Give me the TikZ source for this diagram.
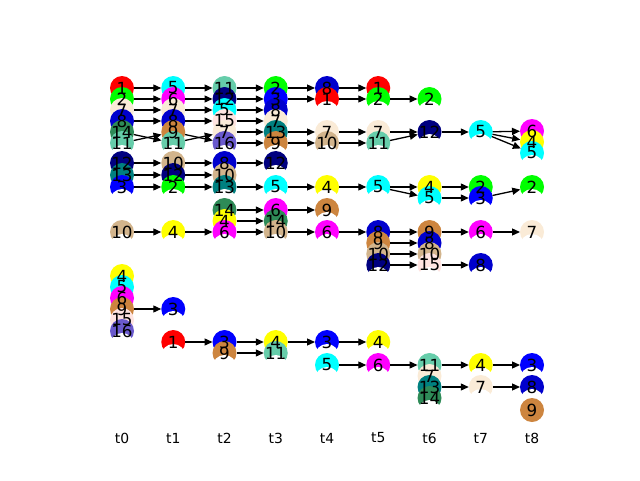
\documentclass[tikz,border=0pt]{standalone}
\usepackage{fontspec}
\setmainfont{DejaVu Sans}
\usepackage{tikz}
\usetikzlibrary{arrows.meta}

\definecolor{col1}{HTML}{FF0000}
\definecolor{col2}{HTML}{00FF00}
\definecolor{col3}{HTML}{0000FF}
\definecolor{col4}{HTML}{FFFF00}
\definecolor{col5}{HTML}{00FFFF}
\definecolor{col6}{HTML}{FF00FF}
\definecolor{col7}{HTML}{FAEBD7}
\definecolor{col8}{HTML}{0000CD}
\definecolor{col9}{HTML}{CD853F}
\definecolor{col10}{HTML}{D2B48C}
\definecolor{col11}{HTML}{66CDAA}
\definecolor{col12}{HTML}{000080}
\definecolor{col13}{HTML}{008080}
\definecolor{col14}{HTML}{2E8B57}
\definecolor{col15}{HTML}{FFE4E1}
\definecolor{col16}{HTML}{6A5ACD}

% column / y / track id
\def\tracknodes{0/88/1, 0/99/2, 0/110/7, 0/121/8, 0/132/14, 0/143/11, 0/163/12, 0/175/13, 0/187/3, 0/232/10,
  0/276/4, 0/287/5, 0/298/6, 0/309/9, 0/320/15, 0/331/16,
  1/88/5, 1/99/6, 1/110/7, 1/121/8, 1/132/9, 1/143/11, 1/163/10, 1/175/12, 1/187/2, 1/232/4, 1/309/3, 1/342/1,
  2/88/11, 2/99/12, 2/110/5, 2/121/15, 2/132/7, 2/143/16, 2/163/8, 2/175/10, 2/187/13, 2/210/14, 2/221/4, 2/232/6,
  2/342/3, 2/353/9,
  3/88/2, 3/99/3, 3/110/8, 3/121/7, 3/132/13, 3/143/9, 3/163/12, 3/187/5, 3/210/6, 3/221/14, 3/232/10, 3/342/4, 3/353/11,
  4/88/8, 4/99/1, 4/132/7, 4/143/10, 4/187/4, 4/210/9, 4/232/6, 4/342/3, 4/365/5,
  5/88/1, 5/99/2, 5/132/7, 5/143/11, 5/187/5, 5/232/8, 5/243/9, 5/254/10, 5/265/12, 5/342/4, 5/365/6,
  6/99/2, 6/132/12, 6/187/4, 6/198/5, 6/232/9, 6/243/8, 6/254/10, 6/265/15, 6/365/11, 6/376/7, 6/387/13, 6/398/14,
  7/132/5, 7/187/2, 7/198/3, 7/232/6, 7/265/8, 7/365/4, 7/387/7,
  8/131/6, 8/142/4, 8/153/5, 8/187/2, 8/232/7, 8/365/3, 8/387/8}

\begin{document}
\begin{tikzpicture}[
        x=1pt, y=-1pt,
        dot/.style={circle, inner sep=0pt, outer sep=0pt, minimum size=24pt},
        cut/.style={fill=white},
        lbl/.style={font=\fontsize{16.7}{16.7}\selectfont, inner sep=0pt},
        tlab/.style={font=\fontsize{13.9}{13.9}\selectfont, inner sep=0pt},
        arr/.style={-{Triangle[length=8pt,width=7pt]}, line width=1.3pt, draw=black},
    ]
    \useasboundingbox (0,0) rectangle (640,480);

    % tracked objects, one column per frame
    \foreach \c/\y/\i in \tracknodes {
        \node[dot, fill=col\i] (t\c-\i) at ({122+51.25*\c},\y) {};
        \fill[cut] ({122+51.25*\c},\y+14) circle[radius=12pt];
    }
    \node[dot, fill=col9] (t8-9) at ({122+51.25*8},410) {};

    % links between frames
    \foreach \s/\e in {t0-1/t1-5, t0-2/t1-6, t0-7/t1-7, t0-8/t1-8, t0-14/t1-11, t0-11/t1-9,
        t0-12/t1-10, t0-13/t1-12, t0-3/t1-2, t0-10/t1-4, t0-9/t1-3,
        t1-5/t2-11, t1-6/t2-12, t1-7/t2-5, t1-8/t2-15, t1-9/t2-16, t1-11/t2-7,
        t1-10/t2-8, t1-12/t2-10, t1-2/t2-13, t1-4/t2-6, t1-1/t2-3,
        t2-11/t3-2, t2-12/t3-3, t2-5/t3-8, t2-15/t3-7, t2-7/t3-13, t2-16/t3-9,
        t2-8/t3-12, t2-13/t3-5, t2-14/t3-6, t2-4/t3-14, t2-6/t3-10, t2-3/t3-4, t2-9/t3-11,
        t3-2/t4-8, t3-3/t4-1, t3-13/t4-7, t3-9/t4-10, t3-5/t4-4, t3-6/t4-9, t3-10/t4-6, t3-4/t4-3,
        t4-8/t5-1, t4-1/t5-2, t4-7/t5-7, t4-10/t5-11, t4-4/t5-5, t4-6/t5-8, t4-3/t5-4, t4-5/t5-6,
        t5-2/t6-2, t5-7/t6-12, t5-11/t6-12, t5-5/t6-4, t5-5/t6-5, t5-8/t6-9, t5-9/t6-8,
        t5-10/t6-10, t5-12/t6-15, t5-6/t6-11,
        t6-12/t7-5, t6-4/t7-2, t6-5/t7-3, t6-9/t7-6, t6-15/t7-8, t6-11/t7-4, t6-13/t7-7,
        t7-5/t8-6, t7-5/t8-4, t7-5/t8-5, t7-3/t8-2, t7-6/t8-7, t7-4/t8-3, t7-7/t8-8}
        \draw[arr] (\s) -- (\e);

    % ids on top
    \foreach \c/\y/\i in \tracknodes
        \node[lbl] at (t\c-\i) {\i};
    \node[lbl] at (t8-9) {9};

    \foreach \c in {0,...,8}
        \node[tlab] (frame\c) at ({122+51.25*\c},438) {t\c};
\end{tikzpicture}
\end{document}
